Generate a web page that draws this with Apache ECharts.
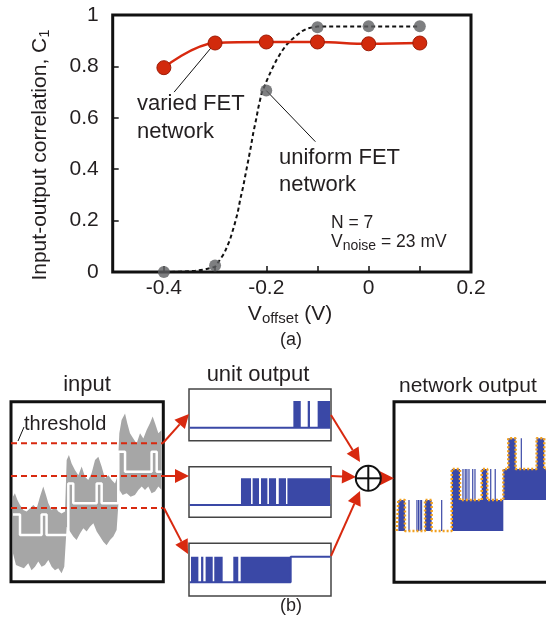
<!DOCTYPE html>
<html><head><meta charset="utf-8">
<script src="https://cdn.jsdelivr.net/npm/echarts@6/dist/echarts.min.js"></script>
<style>html,body{margin:0;padding:0;background:#fff}#c{width:546px;height:629px}</style>
</head><body><div id="c"></div>
<script>
// ---------- (a) correlation vs offset ----------
const offsetV = [-0.4, -0.3, -0.2, -0.1, 0, 0.1];
const variedC1 = [0.795, 0.891, 0.895, 0.895, 0.888, 0.891];
const uniformC1 = [0, 0.025, 0.706, 0.952, 0.956, 0.956];
const uniformFitV = [-0.4, -0.37, -0.34, -0.32, -0.3, -0.282, -0.271, -0.263, -0.256, -0.251, -0.245, -0.24, -0.235, -0.23, -0.2255, -0.22, -0.215, -0.209, -0.2, -0.19, -0.18, -0.17, -0.16, -0.15, -0.14, -0.13, -0.12, -0.11, -0.1, 0, 0.1];
const uniformFitC = [0, 0.001, 0.004, 0.01, 0.02, 0.073, 0.125, 0.177, 0.229, 0.281, 0.333, 0.385, 0.436, 0.488, 0.54, 0.592, 0.644, 0.696, 0.74, 0.785, 0.825, 0.858, 0.885, 0.905, 0.922, 0.937, 0.947, 0.952, 0.955, 0.955, 0.955];
const xTicks = [-0.4, -0.3, -0.2, -0.1, 0, 0.1];
const xLabels = [-0.4, -0.2, 0, 0.2];
const leaderVaried = [[-0.3, 0.891], [-0.38, 0.70]];
const leaderUniform = [[-0.2, 0.706], [-0.104, 0.507]];

// ---------- (b) schematic signals (time 0..100, arbitrary units) ----------
const inputUpper = [[0,1.21],[1.3,1.32],[2.9,1.11],[4.7,0.95],[6.9,0.79],[9.1,0.74],[11.3,0.84],[13.6,0.95],[15.8,0.84],[18,1.21],[20.2,1.53],[22,1.26],[23.6,1.0],[25.8,0.79],[28,0.89],[30.2,0.74],[32.4,0.68],[34.7,0.74],
  [35.8,2.37],[37.3,2.53],[39.1,2.26],[41.3,2.05],[43.6,1.89],[45.8,2.16],[48,1.84],[50.2,1.74],[52.4,1.95],[54.7,2.37],[56.9,2.47],[59.1,2.16],[61.3,1.79],[63.6,1.89],[65.8,1.74],[68,1.63],[69.6,1.84],
  [70.9,3.21],[72.4,3.63],[74.7,3.84],[76.2,3.53],[78,3.21],[80.2,3.05],[82.4,2.89],[84.7,3.21],[86.9,3.05],[89.1,3.32],[91.3,3.53],[93.1,3.74],[94.7,3.53],[96.9,3.21],[99.1,3.32]];
const inputLower = [[0,-0.58],[2,-0.95],[4.7,-1.0],[7.3,-1.05],[10.2,-0.89],[12.4,-1.11],[14.7,-1.0],[16.9,-0.84],[19.1,-1.0],[21.3,-0.95],[23.6,-0.79],[25.8,-1.0],[28,-1.11],[30.2,-1.05],[32.4,-1.21],[34.2,-1.0],
  [35.8,0.26],[38,0.11],[40.2,-0.05],[42.4,-0.16],[44.7,0.05],[46.9,0.21],[49.1,0.11],[51.3,0.26],[53.6,0.37],[55.8,0.11],[58,-0.05],[60.2,-0.21],[62.4,-0.32],[64.7,-0.16],[66.9,-0.05],[69.1,0.16],
  [70.9,1.42],[73.1,1.26],[75.8,1.32],[78.4,1.21],[81.3,1.26],[83.6,1.42],[85.8,1.53],[88,1.42],[90.2,1.53],[92.4,1.32],[94.7,1.37],[96.9,1.53],[99.1,1.42]];
const inputClean = [[0,0.65],[4.7,0.65],[4.7,0],[19.1,0],[19.1,0.65],[22.4,0.65],[22.4,0],[36.9,0],[36.9,1.63],[40.2,1.63],[40.2,1],[55.8,1],[55.8,1.63],[59.1,1.63],[59.1,1],[70.2,1],[70.2,2.63],[74.7,2.63],[74.7,2],[92.4,2],[92.4,2.63],[95.8,2.63],[95.8,2],[99.1,2]];
const thresholds = [0.85, 1.86, 2.90];

const unit1Bursts = [[73.5,78.7],[83.6,85.2],[90.6,99.3]];
const unit2Bursts = [[36.6,43.7],[44.8,49.3],[50.7,55.2],[56.3,61.3],[63.2,68.3],[69.3,99.3]];
const unit3Bursts = [[1.4,6.6],[8.5,10.1],[11.7,16.7],[17.8,23.7],[31.2,34.7],[36.4,71.6]];
const unit1Trace = [[0.5,0],[99.5,0]];
const unit2Trace = [[0.5,0],[99.5,0]];
const unit3Trace = [[0.5,0],[71.6,0],[71.6,1],[99.5,1]];

const netTrace = [[-0.2,0],[0.9,0],[0.9,1],[5.3,1],[5.3,0],[18.7,0],[18.7,1],[23.1,1],[23.1,0],[36.5,0],[36.5,2],[42,2],[42,1],[56.5,1],[56.5,2],[60.2,2],[60.2,1],[70.9,1],[70.9,2],[74.2,2],[74.2,3],[79.1,3],[79.1,2],[93.1,2],[93.1,3],[98.2,3],[98.2,2],[110,2]];
const netBlocks = [[0.9,5.3,0,1],[18.7,23.1,0,1],[36.5,70.9,0,1],[36.5,42,1,2],[56.5,60.2,1,2],[70.9,110,1,2],[74.2,79.1,2,3],[93.1,98.2,2,3]];
const netSpikes = [[8.0,0,1],[13.3,0,1],[14.4,0,1],[15.5,0,1],[16.4,0,1],[29.8,0,1],[44,1,2],[45.5,1,2],[46.6,1,2],[48,1,2],[50.5,1,2],[52,1,2],[62.5,1,2],[65.5,1,2],[82.9,2,3]];

const BLUE = '#3a48a6', RED = '#d8290f', TXT = '#231f20';
const FONT = '"Liberation Sans", Arial, Helvetica, sans-serif';

const chart = echarts.init(document.getElementById('c'), null, {renderer: 'canvas'});

function burstItem(b, lo, hi) { return [b[0], b[1], lo, hi]; }
function rectRender(params, api) {
  const a = api.coord([api.value(0), api.value(3)]);
  const b = api.coord([api.value(1), api.value(2)]);
  return {type: 'rect', shape: {x: a[0], y: a[1], width: Math.max(b[0] - a[0], 1), height: b[1] - a[1]}, style: {fill: BLUE}};
}
function spikeRender(params, api) {
  const a = api.coord([api.value(0), api.value(2)]);
  const b = api.coord([api.value(0), api.value(1)]);
  return {type: 'line', shape: {x1: a[0], y1: a[1], x2: b[0], y2: b[1]}, style: {stroke: BLUE, lineWidth: 1.2}};
}
function hiddenAxis(i, min, max) { return {type: 'value', gridIndex: i, min: min, max: max, show: false}; }
function box(l, t, w, h, col, bw) {
  return {left: l, top: t, width: w, height: h, show: true, borderColor: col, borderWidth: bw, outerBoundsMode: 'none', containLabel: false};
}

const grids = [
  box(112.7, 15, 358.3, 257, '#111', 3),
  box(11, 401.7, 152.3, 180, '#111', 3),
  box(189, 389, 142, 51.7, '#444', 1.5),
  box(189, 466.7, 142, 50.6, '#444', 1.5),
  box(189, 543.3, 142, 52.7, '#444', 1.5),
  box(394, 401.7, 175, 180.6, '#111', 3)
];

const xAxes = [
  {type: 'value', gridIndex: 0, min: -0.5, max: 0.2,
   axisLine: {show: false, onZero: false},
   axisTick: {show: true, inside: true, length: 6, customValues: xTicks, lineStyle: {color: '#111', width: 1.5}},
   axisLabel: {customValues: xLabels, fontSize: 21, color: TXT, fontFamily: FONT, margin: 6, formatter: v => String(v)},
   splitLine: {show: false}},
  hiddenAxis(1, -1.3, 100.2),
  hiddenAxis(2, 0, 100), hiddenAxis(3, 0, 100), hiddenAxis(4, 0, 100),
  hiddenAxis(5, -2, 114.7)
];
const yAxes = [
  {type: 'value', gridIndex: 0, min: 0, max: 1, interval: 0.2,
   axisLine: {show: false, onZero: false},
   axisTick: {show: true, inside: true, length: 6, lineStyle: {color: '#111', width: 1.5}},
   axisLabel: {fontSize: 21, color: TXT, fontFamily: FONT, margin: 14, formatter: v => String(v)},
   splitLine: {show: false}},
  hiddenAxis(1, -1.475, 4.21),
  hiddenAxis(2, -0.487, 1.45), hiddenAxis(3, -0.46, 1.43), hiddenAxis(4, -0.535, 1.52),
  hiddenAxis(5, -1.66, 4.18)
];

const series = [
  // (a)
  {type: 'line', xAxisIndex: 0, yAxisIndex: 0, data: leaderVaried, symbol: 'none', silent: true, lineStyle: {color: '#111', width: 1}, z: 1},
  {type: 'line', xAxisIndex: 0, yAxisIndex: 0, data: leaderUniform, symbol: 'none', silent: true, lineStyle: {color: '#111', width: 1}, z: 1},
  {type: 'line', xAxisIndex: 0, yAxisIndex: 0, data: uniformFitV.map((v, i) => [v, uniformFitC[i]]), symbol: 'none',
   lineStyle: {color: '#111', width: 2, type: [4, 3]}, z: 2},
  {type: 'line', xAxisIndex: 0, yAxisIndex: 0, data: offsetV.map((v, i) => [v, variedC1[i]]), smooth: 0.4,
   symbol: 'circle', symbolSize: 14, lineStyle: {color: RED, width: 2.5},
   itemStyle: {color: '#d22a0c', borderColor: '#9e1b06', borderWidth: 1}, z: 4},
  {type: 'scatter', xAxisIndex: 0, yAxisIndex: 0, data: offsetV.map((v, i) => [v, uniformC1[i]]),
   symbol: 'circle', symbolSize: 12, itemStyle: {color: '#5e5f61'}, z: 5},
  // (b) input
  {type: 'custom', xAxisIndex: 1, yAxisIndex: 1, data: [[0, 0]], clip: true, z: 2,
   renderItem: (p, api) => {
     const pts = inputUpper.map(d => api.coord(d)).concat(inputLower.slice().reverse().map(d => api.coord(d)));
     return {type: 'polygon', shape: {points: pts}, style: {fill: '#a6a6a6'}};
   }},
  {type: 'line', xAxisIndex: 1, yAxisIndex: 1, data: inputClean, symbol: 'none', lineStyle: {color: '#fff', width: 2.5}, z: 3},
  ...thresholds.map(t => ({type: 'line', xAxisIndex: 1, yAxisIndex: 1, data: [[-1.3, t], [100.2, t]], symbol: 'none',
    lineStyle: {color: RED, width: 2, type: [6, 4]}, z: 4})),
  // unit outputs
  {type: 'custom', xAxisIndex: 2, yAxisIndex: 2, data: unit1Bursts.map(b => burstItem(b, 0, 1)), renderItem: rectRender, clip: true},
  {type: 'line', xAxisIndex: 2, yAxisIndex: 2, data: unit1Trace, symbol: 'none', lineStyle: {color: BLUE, width: 2}},
  {type: 'custom', xAxisIndex: 3, yAxisIndex: 3, data: unit2Bursts.map(b => burstItem(b, 0, 1)), renderItem: rectRender, clip: true},
  {type: 'line', xAxisIndex: 3, yAxisIndex: 3, data: unit2Trace, symbol: 'none', lineStyle: {color: BLUE, width: 2}},
  {type: 'custom', xAxisIndex: 4, yAxisIndex: 4, data: unit3Bursts.map(b => burstItem(b, 0, 1)), renderItem: rectRender, clip: true},
  {type: 'line', xAxisIndex: 4, yAxisIndex: 4, data: unit3Trace, symbol: 'none', lineStyle: {color: BLUE, width: 2}},
  // network output
  {type: 'custom', xAxisIndex: 5, yAxisIndex: 5, data: netBlocks, renderItem: rectRender, clip: true, z: 2},
  {type: 'custom', xAxisIndex: 5, yAxisIndex: 5, data: netSpikes, renderItem: spikeRender, clip: true, z: 2},
  {type: 'line', xAxisIndex: 5, yAxisIndex: 5, data: netTrace, symbol: 'none', lineStyle: {color: '#f2a11f', width: 2.5, type: [2, 2]}, z: 3}
];

function txt(x, y, text, size, align, extra) {
  return Object.assign({type: 'text', x: x, y: y, silent: true,
    style: {text: text, fontSize: size, fontFamily: FONT, fill: TXT, textAlign: align || 'left', textVerticalAlign: 'middle'}}, extra || {});
}
function arrow(x1, y1, x2, y2) {
  const ang = Math.atan2(y2 - y1, x2 - x1), L = 14, W = 7;
  const bx = x2 - L * Math.cos(ang), by = y2 - L * Math.sin(ang);
  const px = -Math.sin(ang) * W, py = Math.cos(ang) * W;
  return [
    {type: 'line', silent: true, shape: {x1: x1, y1: y1, x2: bx, y2: by}, style: {stroke: RED, lineWidth: 2}},
    {type: 'polygon', silent: true, shape: {points: [[x2, y2], [bx + px, by + py], [bx - px, by - py]]}, style: {fill: RED}}
  ];
}
const subRich = {
  a: {fontSize: 21, fontFamily: FONT, fill: TXT, color: TXT},
  s: {fontSize: 15, fontFamily: FONT, fill: TXT, color: TXT, padding: [10, 0, 0, 0]}
};

const graphics = [
  Object.assign(txt(40, 155, '', 21, 'center'), {rotation: Math.PI / 2,
    style: {text: '{a|Input-output correlation, C}{s|1}', rich: subRich, textAlign: 'center', textVerticalAlign: 'middle', fontFamily: FONT, fill: TXT}}),
  txt(290, 314, '', 21, 'center', {style: {text: '{a|V}{s|offset}{a| (V)}', rich: subRich, textAlign: 'center', textVerticalAlign: 'middle', fontFamily: FONT, fill: TXT}}),
  txt(291, 340, '(a)', 18, 'center'),
  txt(137, 104, 'varied FET', 22),
  txt(137, 132, 'network', 22),
  txt(279, 158, 'uniform FET', 22),
  txt(279, 185, 'network', 22),
  txt(331, 223, 'N = 7', 17.5),
  txt(331, 242, '', 17.5, 'left', {style: {text: '{a|V}{s|noise}{a| = 23 mV}', textAlign: 'left', textVerticalAlign: 'middle',
    rich: {a: {fontSize: 17.5, fontFamily: FONT, fill: TXT, color: TXT}, s: {fontSize: 14, fontFamily: FONT, fill: TXT, color: TXT, padding: [8, 0, 0, 0]}}}}),
  txt(87, 385, 'input', 22, 'center'),
  txt(258, 375, 'unit output', 22, 'center'),
  txt(399, 386, 'network output', 21),
  txt(24, 424, 'threshold', 20),
  {type: 'line', silent: true, shape: {x1: 18, y1: 441, x2: 24, y2: 427}, style: {stroke: '#111', lineWidth: 1}},
  txt(291, 606, '(b)', 18, 'center'),
  ...arrow(163, 443, 189, 414),
  ...arrow(163, 476, 189, 476),
  ...arrow(164, 508, 188, 554),
  ...arrow(331, 415, 360, 462),
  ...arrow(331, 476, 356, 477),
  ...arrow(331, 556, 360, 491),
  ...arrow(381, 478.3, 394, 478.3),
  {type: 'circle', silent: true, shape: {cx: 368.3, cy: 478.3, r: 12.5}, style: {stroke: '#111', lineWidth: 2, fill: '#fff'}, z: 10},
  {type: 'line', silent: true, shape: {x1: 355.8, y1: 478.3, x2: 380.8, y2: 478.3}, style: {stroke: '#111', lineWidth: 2}, z: 11},
  {type: 'line', silent: true, shape: {x1: 368.3, y1: 465.8, x2: 368.3, y2: 490.8}, style: {stroke: '#111', lineWidth: 2}, z: 11}
];

chart.setOption({
  animation: false,
  backgroundColor: '#fff',
  textStyle: {fontFamily: FONT},
  grid: grids, xAxis: xAxes, yAxis: yAxes, series: series, graphic: graphics
});
</script></body></html>
